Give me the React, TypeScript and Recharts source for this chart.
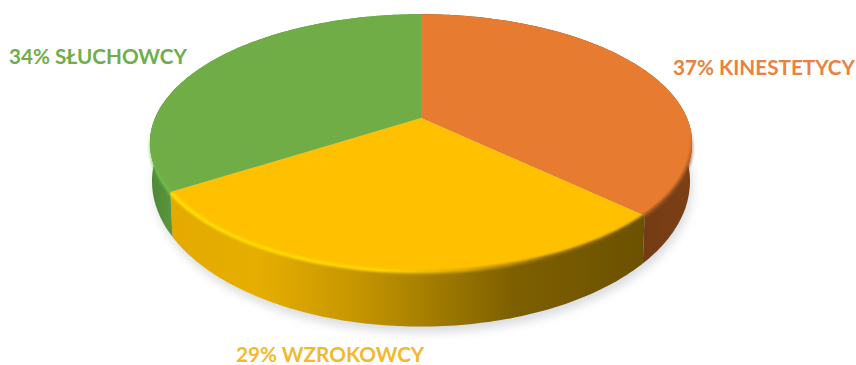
import * as React from 'react'
import { Pie, PieChart } from 'recharts'

const learnerTypes = ['KINESTETYCY', 'WZROKOWCY', 'SŁUCHOWCY']
const shares = [37, 29, 34]
const topColors = ['#e77c30', '#ffc000', '#70ad47']
const labelColors = ['#e8823e', '#f2b92e', '#6fae4a']
const wallFills = ['url(#wallOrange)', 'url(#wallYellow)', 'url(#wallGreen)']
const rimStrokes = ['url(#rimOrange)', 'url(#rimYellow)', 'url(#rimGreen)']

const sliceData = learnerTypes.map((name, i) => ({
	name,
	value: shares[i],
	fill: topColors[i],
}))

// simple one point perspective for the tilted disc
const PERSPECTIVE = 0.194
const TOP_SQUASH = 0.466
const BOTTOM_SQUASH = 0.526
const BOTTOM_DROP = 35

const project = (cx: number, cy: number, r: number, deg: number, lower = false) => {
	const rad = (deg * Math.PI) / 180
	const x = Math.cos(rad)
	const y = -Math.sin(rad)
	const w = 1 / (1 - PERSPECTIVE * y)
	const squash = lower ? BOTTOM_SQUASH : TOP_SQUASH
	return {
		x: cx + (lower ? 0.992 : 1) * r * x * w,
		y: cy + (lower ? BOTTOM_DROP : 0) + squash * r * y * w,
		front: y,
	}
}

const arcPoints = (p: any, lower = false) => {
	const pts = []
	const steps = Math.ceil(Math.abs(p.endAngle - p.startAngle))
	for (let i = 0; i <= steps; i++) {
		const deg = p.startAngle + ((p.endAngle - p.startAngle) * i) / steps
		pts.push(project(p.cx, p.cy, p.outerRadius, deg, lower))
	}
	return pts
}

const toPath = (pts: { x: number; y: number }[]) =>
	pts.map((pt, i) => `${i ? 'L' : 'M'}${pt.x.toFixed(1)} ${pt.y.toFixed(1)}`).join(' ')

const wallPath = (p: any) =>
	`${toPath(arcPoints(p))} L${toPath(arcPoints(p, true).reverse()).slice(1)} Z`

// the shadow follows the lower disc only, so nothing shows above the rim
const ShadowShape = (p: any) => (
	<path
		d={`M${p.cx} ${p.cy + BOTTOM_DROP} L${toPath(arcPoints(p, true)).slice(1)} Z`}
		fill="#5a6070"
		opacity={0.22}
		filter="url(#softShadow)"
		transform="translate(2 6)"
	/>
)

const WallShape = (p: any) => <path d={wallPath(p)} fill={wallFills[p.index]} />

const TopShape = (p: any) => {
	const rim = arcPoints(p).filter((pt) => pt.front > 0.02)
	return (
		<g>
			<path d={`M${p.cx} ${p.cy} L${toPath(arcPoints(p)).slice(1)} Z`} fill={p.fill} />
			{rim.length > 1 && (
				<path d={toPath(rim)} fill="none" stroke={rimStrokes[p.index]} strokeWidth={3.5} filter="url(#softRim)" />
			)}
		</g>
	)
}

const labelSpots = [
	{ x: 673, y: 75 },
	{ x: 236, y: 362 },
	{ x: 9, y: 64 },
]

const renderLabel = ({ index }: any) => (
	<text
		x={labelSpots[index].x}
		y={labelSpots[index].y}
		fill={labelColors[index]}
		fontFamily="Lato, sans-serif"
		fontWeight={700}
		fontSize={20.7}
		textAnchor="start"
	>
		{`${shares[index]}% ${learnerTypes[index]}`}
	</text>
)

const pieProps = {
	data: sliceData,
	dataKey: 'value',
	nameKey: 'name',
	cx: 421,
	cy: 118,
	innerRadius: 0,
	outerRadius: 266,
	startAngle: 90,
	endAngle: -270,
	stroke: 'none',
	isAnimationActive: false,
}

export default function App() {
	return (
		<div style={{ position: 'absolute', left: 0, top: 0, width: 856, height: 365, overflow: 'hidden', background: '#fff' }}>
			<PieChart width={856} height={365} margin={{ top: 0, right: 0, bottom: 0, left: 0 }}>
				<defs>
					<filter id="softShadow" filterUnits="userSpaceOnUse" x="0" y="0" width="856" height="365">
						<feGaussianBlur stdDeviation="5" />
					</filter>
					<filter id="softRim" filterUnits="userSpaceOnUse" x="0" y="0" width="856" height="365">
						<feGaussianBlur stdDeviation="1" />
					</filter>
					<linearGradient id="wallYellow" gradientUnits="userSpaceOnUse" x1="173" y1="0" x2="643" y2="0">
						<stop offset="0" stopColor="#e4aa00" />
						<stop offset="0.18" stopColor="#e6ae00" />
						<stop offset="0.38" stopColor="#c89700" />
						<stop offset="0.55" stopColor="#a37d00" />
						<stop offset="0.72" stopColor="#7e6000" />
						<stop offset="1" stopColor="#6c5100" />
					</linearGradient>
					<linearGradient id="wallOrange" gradientUnits="userSpaceOnUse" x1="643" y1="0" x2="692" y2="0">
						<stop offset="0" stopColor="#743c14" />
						<stop offset="1" stopColor="#7c3f15" />
					</linearGradient>
					<linearGradient id="wallGreen" gradientUnits="userSpaceOnUse" x1="150" y1="0" x2="175" y2="0">
						<stop offset="0" stopColor="#4f8735" />
						<stop offset="1" stopColor="#5c983d" />
					</linearGradient>
					<linearGradient id="rimYellow" gradientUnits="userSpaceOnUse" x1="173" y1="0" x2="643" y2="0">
						<stop offset="0" stopColor="#ffe100" />
						<stop offset="0.45" stopColor="#ffd600" />
						<stop offset="0.62" stopColor="#d9a500" />
						<stop offset="0.8" stopColor="#8a6800" />
						<stop offset="1" stopColor="#705400" />
					</linearGradient>
					<linearGradient id="rimOrange" gradientUnits="userSpaceOnUse" x1="0" y1="130" x2="0" y2="217">
						<stop offset="0" stopColor="#8a4a1b" stopOpacity="0" />
						<stop offset="0.5" stopColor="#8f4c1c" stopOpacity="0.9" />
						<stop offset="1" stopColor="#96501f" />
					</linearGradient>
					<linearGradient id="rimGreen" gradientUnits="userSpaceOnUse" x1="0" y1="130" x2="0" y2="192">
						<stop offset="0" stopColor="#68b346" stopOpacity="0" />
						<stop offset="1" stopColor="#6cc04a" />
					</linearGradient>
				</defs>
				<Pie {...pieProps} shape={ShadowShape} />
				<Pie {...pieProps} shape={WallShape} />
				<Pie {...pieProps} shape={TopShape} label={renderLabel} labelLine={false} />
			</PieChart>
		</div>
	)
}
